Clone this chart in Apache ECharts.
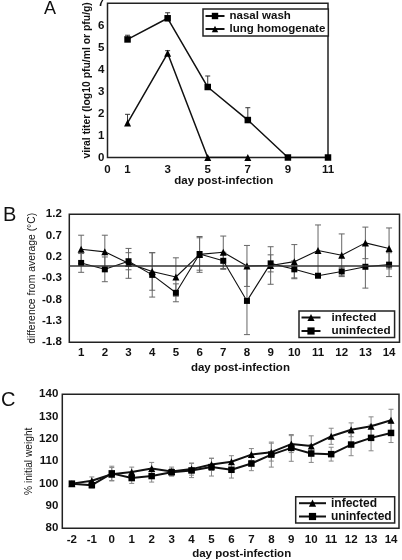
<!DOCTYPE html>
<html><head><meta charset="utf-8">
<script src="https://cdn.jsdelivr.net/npm/echarts@6/dist/echarts.min.js"></script>
<style>html,body{margin:0;padding:0;background:#fff}#c{width:402px;height:560px}</style>
</head><body><div id="c"></div>
<script>
// ---------- Panel A data ----------
const daysA = [1, 3, 5, 7, 9, 11];
const nasalWash = [5.36, 6.32, 3.2, 1.7, 0, 0];
const nasalWashErr = [0.19, 0.25, 0.5, 0.56, 0, 0];
const lungDays = [1, 3, 5, 7];
const lungHomogenate = [1.57, 4.73, 0, 0];
const lungHomogenateErr = [0.39, 0.12, 0, 0];
const xTicksA = [0, 1, 3, 5, 7, 9, 11];

// ---------- Panel B data ----------
const daysB = [1, 2, 3, 4, 5, 6, 7, 8, 9, 10, 11, 12, 13, 14];
const infectedB = [0.38, 0.32, 0.05, -0.14, -0.27, 0.26, 0.31, -0.01, 0.0, 0.09, 0.35, 0.24, 0.53, 0.40];
const infectedBErr = [0.33, 0.39, 0.35, 0.44, 0.45, 0.42, 0.38, 0.48, 0.44, 0.40, 0.60, 0.50, 0.37, 0.48];
const uninfectedB = [0.06, -0.09, 0.10, -0.22, -0.64, 0.27, 0.11, -0.83, 0.05, -0.09, -0.24, -0.14, -0.03, 0.02];
const uninfectedBErr = [0.22, 0.29, 0.20, 0.52, 0.21, 0.38, 0.20, 0.79, 0.20, 0.20, 0.04, 0.10, 0.50, 0.28];
const yTicksB = [-1.8, -1.3, -0.8, -0.3, 0.2, 0.7, 1.2];

// ---------- Panel C data ----------
const daysC = [-2, -1, 0, 1, 2, 3, 4, 5, 6, 7, 8, 9, 10, 11, 12, 13, 14];
const infectedC = [100, 101.3, 104.2, 105.2, 106.8, 105.4, 106.5, 108.6, 109.8, 113.0, 114.1, 117.7, 116.9, 121.2, 124.1, 125.7, 128.4];
const infectedCErr = [0, 1.7, 3, 2.2, 2.7, 2, 2.7, 2.7, 2.7, 2.7, 4, 3.8, 4.5, 3.6, 3.1, 4.2, 4.9];
const uninfectedC = [100, 99.3, 104.6, 102.5, 103.4, 105.1, 105.9, 107.4, 106.2, 109.0, 113.0, 116.0, 113.5, 113.2, 117.5, 120.5, 122.7];
const uninfectedCErr = [0, 1.2, 3.2, 2.4, 2.7, 1.6, 3.2, 4, 3.7, 3.2, 5.6, 6, 4, 3.1, 5, 5.8, 4.3];

// ---------- helpers ----------
const FF = '"Liberation Sans", Arial, sans-serif';
const pts = (xs, ys) => xs.map((x, i) => [x, ys[i]]);
const errData = (xs, ys, es, upOnly) =>
  xs.map((x, i) => [x, upOnly ? ys[i] : ys[i] - es[i], ys[i] + es[i], es[i]]).filter(d => d[3] > 0);
function makeErr(cap, color, both) {
  return function (params, api) {
    const x = api.value(0), lo = api.value(1), hi = api.value(2);
    const a = api.coord([x, hi]), b = api.coord([x, lo]);
    const st = { stroke: color, lineWidth: 1 };
    const ch = [
      { type: 'line', shape: { x1: a[0], y1: a[1], x2: b[0], y2: b[1] }, style: st },
      { type: 'line', shape: { x1: a[0] - cap, y1: a[1], x2: a[0] + cap, y2: a[1] }, style: st }
    ];
    if (both) ch.push({ type: 'line', shape: { x1: b[0] - cap, y1: b[1], x2: b[0] + cap, y2: b[1] }, style: st });
    return { type: 'group', children: ch };
  };
}
const errSeries = (gi, data, cap, color, both) => ({
  type: 'custom', xAxisIndex: gi, yAxisIndex: gi, renderItem: makeErr(cap, color, both),
  data: data, encode: { x: 0, y: [1, 2] }, z: 1, silent: true, clip: false
});
const lineSeries = (gi, name, data, sym, size, width) => ({
  type: 'line', name: name, xAxisIndex: gi, yAxisIndex: gi, data: data,
  symbol: sym, symbolSize: size, showSymbol: true, z: 3, silent: true,
  itemStyle: { color: '#000' }, lineStyle: { color: '#111', width: width }
});
const tickFont = { fontFamily: FF, fontWeight: 'bold', fontSize: 11.5, color: '#111' };
const gridBase = { show: true, borderColor: '#222', borderWidth: 1.5, backgroundColor: 'transparent', containLabel: false, outerBoundsMode: 'none' };
const xBase = (gi, min, max, ticks, margin, gap, shift) => ({
  type: 'value', gridIndex: gi, min: min, max: max,
  axisLine: { show: false }, axisTick: { show: false }, splitLine: { show: false },
  axisLabel: Object.assign({ customValues: ticks, margin: margin, formatter: v => String(v) }, tickFont),
  name: 'day post-infection', nameLocation: 'middle', nameGap: gap, nameMoveOverlap: false,
  nameTextStyle: { fontFamily: FF, fontWeight: 'bold', fontSize: 11.5, color: '#111', padding: [0, 0, 0, shift] }
});
const legendBase = (opts) => Object.assign({
  orient: 'vertical', selectedMode: false, borderColor: '#222', borderWidth: 1.5,
  backgroundColor: '#fff'
}, opts);

const chart = echarts.init(document.getElementById('c'), null, { renderer: 'canvas' });
chart.setOption({
  animation: false,
  backgroundColor: '#fff',
  grid: [
    Object.assign({ left: 107.5, top: 3.3, width: 220.5, height: 154.2 }, gridBase),
    Object.assign({ left: 69.3, top: 214.3, width: 330.2, height: 128 }, gridBase),
    Object.assign({ left: 62.3, top: 394.3, width: 336.7, height: 134 }, gridBase)
  ],
  xAxis: [
    xBase(0, 0, 11, xTicksA, 6, 17.5, 12),
    xBase(1, 0.5, 14.44, daysB, 5, 19.5, 12),
    xBase(2, -2.48, 14.4, daysC, 5.3, 20, 22)
  ],
  yAxis: [
    {
      type: 'value', gridIndex: 0, min: 0, max: 7, interval: 1,
      axisLine: { show: false }, axisTick: { show: false }, splitLine: { show: false },
      axisLabel: Object.assign({ margin: 3 }, tickFont),
      name: 'viral titer (log10 pfu/ml or pfu/g)', nameLocation: 'middle', nameRotate: 90, nameGap: 15,
      nameMoveOverlap: false,
      nameTextStyle: { fontFamily: FF, fontWeight: 'bold', fontSize: 10.4, color: '#111' }
    },
    {
      type: 'value', gridIndex: 1, min: -1.8, max: 1.2,
      axisLine: { show: false }, axisTick: { show: false }, splitLine: { show: false },
      axisLabel: Object.assign({ margin: 7.5, customValues: yTicksB, formatter: v => v.toFixed(1) }, tickFont),
      name: 'difference from average (°C)', nameLocation: 'middle', nameRotate: 90, nameGap: 32,
      nameMoveOverlap: false,
      nameTextStyle: { fontFamily: FF, fontWeight: 'normal', fontSize: 10.4, color: '#111' }
    },
    {
      type: 'value', gridIndex: 2, min: 80, max: 140, interval: 10,
      axisLine: { show: false }, axisTick: { show: false }, splitLine: { show: false },
      axisLabel: Object.assign({ margin: 4, padding: [7, 0, 0, 0] }, tickFont),
      name: '% initial weight', nameLocation: 'middle', nameRotate: 90, nameGap: 28,
      nameMoveOverlap: false,
      nameTextStyle: { fontFamily: FF, fontWeight: 'normal', fontSize: 10.2, color: '#111' }
    }
  ],
  legend: [
    legendBase({
      left: 203, top: 9, data: ['nasal wash', 'lung homogenate'],
      itemWidth: 19, itemHeight: 8, itemGap: 1, padding: [1, 3, 1, 1.5],
      textStyle: { fontFamily: FF, fontWeight: 'bold', fontSize: 11.5, color: '#111', lineHeight: 10.5 }
    }),
    legendBase({
      left: 299, top: 311, data: ['infected', 'uninfected'],
      itemWidth: 19, itemHeight: 9, itemGap: 0.5, padding: [0, 4, 0, 1.5],
      textStyle: { fontFamily: FF, fontWeight: 'bold', fontSize: 11.7, color: '#111', lineHeight: 13, padding: [0, 0, 0, 6] }
    }),
    legendBase({
      left: 295.7, top: 496.7, data: ['infected (C)', 'uninfected (C)'],
      formatter: n => n.replace(' (C)', ''),
      itemWidth: 27, itemHeight: 9, itemGap: 0.3, padding: [0, 3, 0, 2.3],
      textStyle: { fontFamily: FF, fontWeight: 'bold', fontSize: 12, color: '#111', lineHeight: 13 }
    })
  ],
  graphic: [
    { type: 'text', left: 44, top: 0, style: { text: 'A', font: '18px ' + FF, fill: '#111' } },
    { type: 'text', left: 3, top: 205, style: { text: 'B', font: '20px ' + FF, fill: '#111' } },
    { type: 'text', left: 1, top: 390, style: { text: 'C', font: '20px ' + FF, fill: '#111' } }
  ],
  series: [
    // Panel A
    errSeries(0, errData(daysA, nasalWash, nasalWashErr, true), 2.5, '#333', false),
    errSeries(0, errData(lungDays, lungHomogenate, lungHomogenateErr, true), 2.5, '#333', false),
    lineSeries(0, 'nasal wash', pts(daysA, nasalWash), 'rect', 6.5, 1.5),
    lineSeries(0, 'lung homogenate', pts(lungDays, lungHomogenate), 'triangle', 7, 1.5),
    // Panel B
    errSeries(1, errData(daysB, infectedB, infectedBErr, false), 3, '#666', true),
    errSeries(1, errData(daysB, uninfectedB, uninfectedBErr, false), 3, '#666', true),
    Object.assign(lineSeries(1, 'infected', pts(daysB, infectedB), 'triangle', 7, 1.1), {
      markLine: {
        silent: true, symbol: 'none', label: { show: false },
        lineStyle: { color: '#333', width: 1.5, type: 'solid' }, data: [{ yAxis: 0 }]
      }
    }),
    lineSeries(1, 'uninfected', pts(daysB, uninfectedB), 'rect', 6, 1.1),
    // Panel C
    errSeries(2, errData(daysC, infectedC, infectedCErr, false), 2.5, '#888', true),
    errSeries(2, errData(daysC, uninfectedC, uninfectedCErr, false), 2.5, '#888', true),
    lineSeries(2, 'infected (C)', pts(daysC, infectedC), 'triangle', 7, 2),
    lineSeries(2, 'uninfected (C)', pts(daysC, uninfectedC), 'rect', 6.5, 2)
  ]
});
</script></body></html>
